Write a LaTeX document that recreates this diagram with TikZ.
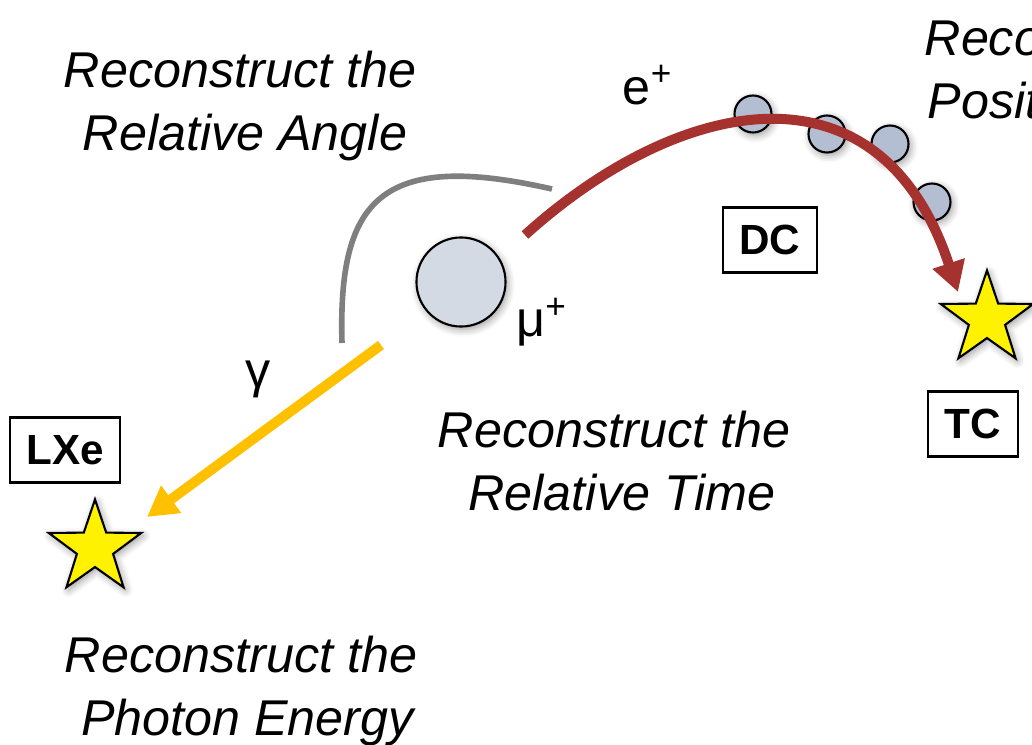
\documentclass[tikz,border=0pt]{standalone}
\usepackage{fontspec}
\setmainfont{Liberation Sans}
\usepackage{xcolor}
\usepackage{tikz}
\usetikzlibrary{arrows.meta, shapes.geometric, shadows.blur}

\definecolor{trackred}{HTML}{A5322F}
\definecolor{gammayel}{HTML}{FFC000}
\definecolor{arcgray}{HTML}{7F7F7F}
\definecolor{muonfill}{HTML}{D4DAE4}
\definecolor{hitfill}{HTML}{B3BED3}

\begin{document}
\begin{tikzpicture}[
    x=0.01cm, y=-0.01cm,
    recon/.style={align=center, font=\fontsize{14.3}{17.9}\selectfont\itshape, inner sep=0pt},
    det/.style={rectangle, draw, line width=0.6pt, minimum height=0.65cm, inner xsep=0.165cm, font=\fontsize{12}{14}\selectfont\bfseries},
    star5/.style={star, star points=5, star point ratio=2.55, draw, line width=0.6pt, fill=yellow, minimum size=0.97cm, inner sep=0pt, blur shadow={shadow blur steps=5, shadow xshift=0.6pt, shadow yshift=-0.8pt}},
    hit/.style={circle, draw, line width=0.6pt, fill=hitfill, minimum size=0.37cm, inner sep=0pt, blur shadow={shadow blur steps=5, shadow xshift=0.6pt, shadow yshift=-0.8pt}},
    lbl/.style={font=\fontsize{14.3}{17}\selectfont, inner sep=0pt},
    trk/.style={line width=0.1cm, -{Triangle[length=0.3cm, width=0.32cm]}},
]
\useasboundingbox (0,0) rectangle (1032,745);
\clip (0,0) rectangle (1032,745);

% texts
\node[recon] (angle) at (240,106) {Reconstruct the\\\hspace*{0.1cm}Relative Angle};
\node[recon] (time) at (614,461) {Reconstruct the\\\hspace*{0.16cm}Relative Time};
\node[recon] (energy) at (241,691) {Reconstruct the\\\hspace*{0.13cm}Photon Energy};
\node[recon, align=left, anchor=west] (posit) at (924,69) {Reconstruct the\\\hspace*{0.03cm}Positron};

% angle arc
\coordinate (arcA) at (342,343);
\coordinate (arcB) at (552,189);
\draw[arcgray, line width=1.6pt] (arcA) .. controls (338,200) and (380,150) .. (arcB);

% drift chamber hits
\node[hit] (h1) at (753,114) {};
\node[hit] (h2) at (827,134) {};
\node[hit] (h3) at (890,144) {};
\node[hit] (h4) at (932,202) {};

% muon
\node[circle, draw, line width=0.6pt, fill=muonfill, minimum size=0.89cm, inner sep=0pt, blur shadow={shadow blur steps=5, shadow xshift=0.6pt, shadow yshift=-0.8pt}] (muon) at (461,282) {};
\node[lbl] (mulbl) at (542,322) {μ\textsuperscript{+}};

% detectors
\node[det] (dc) at (770,240) {DC};
\node[det] (tc) at (973,424) {TC};
\node[det] (lxe) at (65,450) {LXe};
\node[star5] (tcstar) at (987,319) {};
\node[star5] (lxestar) at (95,548) {};

% positron
\coordinate (estart) at (525,235);
\coordinate (eend) at (958,292);
\draw[trk, trackred] (estart) .. controls (680,95) and (880,55) .. (eend);
\node[lbl] (elbl) at (648,85) {e\textsuperscript{+}};

% photon
\coordinate (gstart) at (381,345);
\coordinate (gend) at (147,517);
\draw[trk, gammayel] (gstart) -- (gend);
\node[lbl] (glbl) at (258,379) {γ};

\end{tikzpicture}
\end{document}
